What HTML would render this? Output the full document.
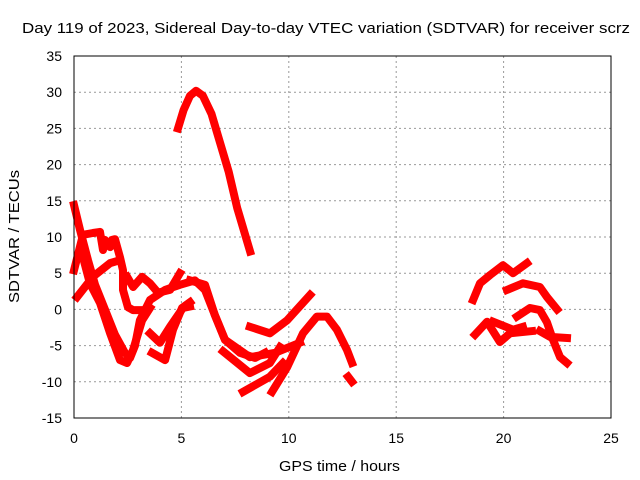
<!DOCTYPE html>
<html><head><meta charset="utf-8"><style>
body{margin:0;background:#fff}
svg{display:block;font-family:"Liberation Sans",sans-serif}
</style></head><body>
<svg id="chart" width="640" height="480" xmlns="http://www.w3.org/2000/svg">
<rect width="640" height="480" fill="#fff"/>
<text x="22" y="33" font-size="15" textLength="608" lengthAdjust="spacingAndGlyphs">Day 119 of 2023, Sidereal Day-to-day VTEC variation (SDTVAR) for receiver scrz</text>
<text x="279" y="471" font-size="15" textLength="121" lengthAdjust="spacingAndGlyphs">GPS time / hours</text>
<text transform="translate(19,303) rotate(-90)" font-size="15" textLength="133" lengthAdjust="spacingAndGlyphs">SDTVAR / TECUs</text>
<g id="grid"></g><g id="ticks"></g><g id="marks"></g>
<rect x="74" y="56" width="537" height="362" fill="none" stroke="#000" stroke-width="1"/>
</svg>
<script>
const xTicks=[0,5,10,15,20,25];
const yTicks=[-15,-10,-5,0,5,10,15,20,25,30,35];
const trackHours=[
[4.84,5.1,5.4,5.68,6.0,6.4,6.8,7.2,7.6,8.0,8.2],
[0,0.28,0.65,0.98,1.44,1.91,2.37,2.61,2.84,3.07,3.54,4.24,4.93,5.63,6.1,6.56,7.03,7.73,8.43,8.89],
[0,0.42,0.88,1.21,1.35,1.44,1.68,1.77,1.91,2.14,2.28,2.28,2.51,2.75,3.07],
[0.42,0.74,1.21,1.68,2.14,2.47,2.75,3.17,3.54],
[0.14,0.88,1.68,2.14],
[2.47,2.75,3.17,3.54,3.91,4.47,4.93],
[3.54,4.0,4.47,5.07,5.4],
[3.63,4.24,4.61,5.03,5.4],
[5.4,6.1,6.56,7.03,8.19,9.36,10.52],
[6.94,8.19,9.12,9.59],
[8.19,9.12,9.92,10.99],
[7.87,9.12,9.73],
[9.22,9.92,10.66,11.31,11.78,12.24,12.71,12.94],
[12.76,12.94],
[18.58,18.9,19.37,19.97,20.44,21.09],
[20.16,20.9,21.69,22.02,22.49],
[18.67,19.23,19.83,20.3,21.32],
[19.51,20.44,20.9],
[20.62,21.23,21.69,22.02,22.3,22.63,22.95],
[21.69,22.16,22.95]
];
const trackValues=[
[25,27.5,29.5,30.2,29.5,27,23,19,14,10,8],
[14.4,11.0,6.8,3.4,0,-3.5,-6,-6.7,-5,-1.5,1.3,2.7,3.4,4,2.7,-0.8,-4.2,-6,-6.7,-6],
[5.4,10.3,10.55,10.7,8.2,9.6,8.6,9.6,9.7,7.2,5.4,2.7,0.3,-0.1,-0.1],
[7.2,3.6,0.9,-3.3,-7.0,-7.4,-5.6,-1.5,0.2],
[1.7,4.5,6.4,6.8],
[4.5,3.1,4.5,3.6,2.3,2.7,5.0],
[-3.3,-4.6,-2.4,0.2,0.4],
[-6.0,-7.0,-2.8,0.2,1.0],
[4.0,3.4,-0.8,-4.2,-6.6,-6.0,-4.6],
[-5.8,-8.8,-7.4,-5.2],
[-2.4,-3.3,-1.5,2.0],
[-11.4,-9.3,-7.4],
[-11.4,-8.0,-3.3,-1.0,-1.0,-2.8,-5.6,-7.4],
[-9.3,-10.0],
[1.3,3.6,4.75,6.1,5.0,6.4],
[2.7,3.6,3.1,1.7,0],
[-3.5,-1.7,-4.5,-3.3,-3.0],
[-1.7,-2.8,-2.4],
[-1.0,0.2,-0.1,-1.8,-4.2,-6.6,-7.4],
[-3.0,-3.8,-3.95]
];
const X0=74,X1=611,Y0=418,Y1=56;
function xs(h){return X0+(h-0)/(25-0)*(X1-X0);}
function ys(v){return Y0-(v+15)/(35+15)*(Y0-Y1);}
const NS="http://www.w3.org/2000/svg";
const grid=document.getElementById('grid'),ticks=document.getElementById('ticks'),marks=document.getElementById('marks');
function mk(t,a,p){const e=document.createElementNS(NS,t);for(const k in a)e.setAttribute(k,a[k]);p.appendChild(e);return e;}
xTicks.forEach(t=>{
  const x=xs(t);
  if(t>0&&t<25){const g=mk('line',{x1:x,x2:x,y1:Y1,y2:Y0,stroke:'#999','stroke-dasharray':'2,3'},grid);
  
  }
  const l=mk('text',{x:x,y:443,'text-anchor':'middle','font-size':'14'},ticks);l.textContent=t;
  
  
});
yTicks.forEach(t=>{
  const y=ys(t);
  if(t>-15&&t<35){const g=mk('line',{x1:X0,x2:X1,y1:y,y2:y,stroke:'#999','stroke-dasharray':'2,3'},grid);
  
  }
  const l=mk('text',{x:62,y:y+5,'text-anchor':'end','font-size':'14'},ticks);l.textContent=t;
  
  
});
trackHours.forEach((hs,i)=>{
  const pts=hs.map((h,j)=>xs(h).toFixed(1)+','+ys(trackValues[i][j]).toFixed(1)).join(' ');
  const p=mk('polyline',{points:pts,fill:'none',stroke:'#f00','stroke-width':'8','stroke-linejoin':'round','stroke-linecap':'square'},marks);
  
  
});
</script>
</body></html>
